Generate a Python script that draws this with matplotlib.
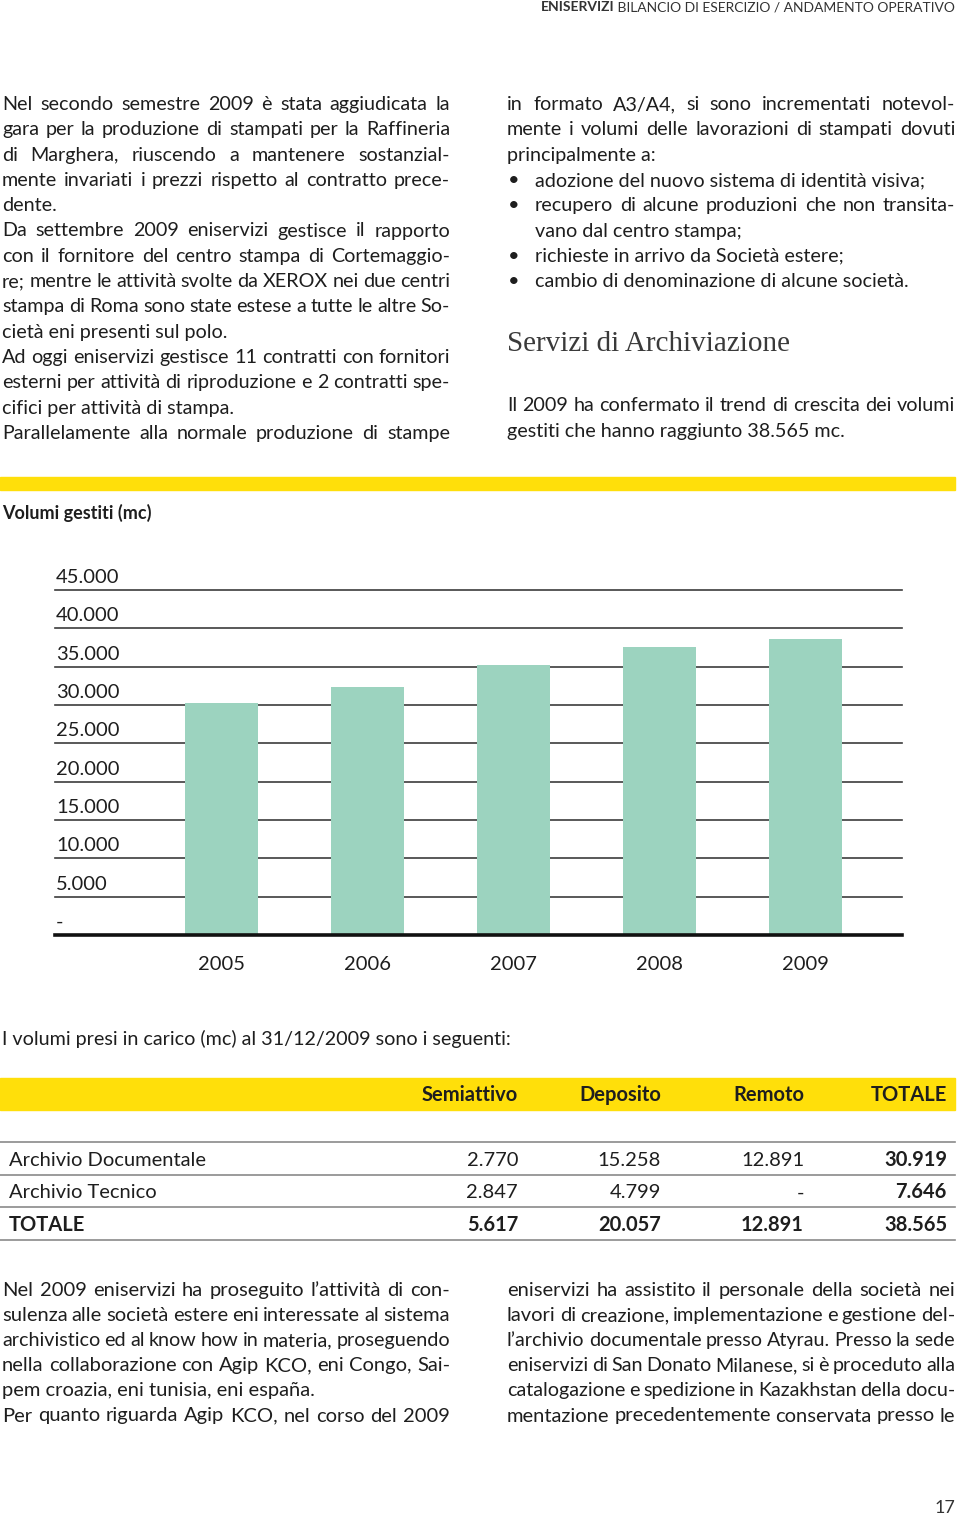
import matplotlib
matplotlib.use('Agg')
import matplotlib.pyplot as plt
from matplotlib.transforms import Affine2D

# chart data
years = ['2005', '2006', '2007', '2008', '2009']
volumes = [30200, 32400, 35200, 37600, 38565]
ytick_values = [0, 5000, 10000, 15000, 20000, 25000, 30000, 35000, 40000, 45000]
ytick_labels = ['-', '5.000', '10.000', '15.000', '20.000', '25.000',
                '30.000', '35.000', '40.000', '45.000']

# table data
table_cols = ['Semiattivo', 'Deposito', 'Remoto', 'TOTALE']
table_rows = ['Archivio Documentale', 'Archivio Tecnico', 'TOTALE']
table_vals = [['2.770', '15.258', '12.891', '30.919'],
              ['2.847', '4.799', '-', '7.646'],
              ['5.617', '20.057', '12.891', '38.565']]

left_col = [
    'Nel secondo semestre 2009 è stata aggiudicata la',
    'gara per la produzione di stampati per la Raffineria',
    'di Marghera, riuscendo a mantenere sostanzial-',
    'mente invariati i prezzi rispetto al contratto prece-',
    'dente.',
    'Da settembre 2009 eniservizi gestisce il rapporto',
    'con il fornitore del centro stampa di Cortemaggio-',
    're; mentre le attività svolte da XEROX nei due centri',
    'stampa di Roma sono state estese a tutte le altre So-',
    'cietà eni presenti sul polo.',
    'Ad oggi eniservizi gestisce 11 contratti con fornitori',
    'esterni per attività di riproduzione e 2 contratti spe-',
    'cifici per attività di stampa.',
    'Parallelamente alla normale produzione di stampe',
]
left_last = {4, 9, 12}

right_top = [
    'in formato A3/A4, si sono incrementati notevol-',
    'mente i volumi delle lavorazioni di stampati dovuti',
    'principalmente a:',
]
bullets = [
    ['adozione del nuovo sistema di identità visiva;'],
    ['recupero di alcune produzioni che non transita-', 'vano dal centro stampa;'],
    ['richieste in arrivo da Società estere;'],
    ['cambio di denominazione di alcune società.'],
]
archive_text = [
    'Il 2009 ha confermato il trend di crescita dei volumi',
    'gestiti che hanno raggiunto 38.565 mc.',
]

bottom_left = [
    'Nel 2009 eniservizi ha proseguito l’attività di con-',
    'sulenza alle società estere eni interessate al sistema',
    'archivistico ed al know how in materia, proseguendo',
    'nella collaborazione con Agip KCO, eni Congo, Sai-',
    'pem croazia, eni tunisia, eni españa.',
    'Per quanto riguarda Agip KCO, nel corso del 2009',
]
bottom_right = [
    'eniservizi ha assistito il personale della società nei',
    'lavori di creazione, implementazione e gestione del-',
    'l’archivio documentale presso Atyrau. Presso la sede',
    'eniservizi di San Donato Milanese, si è proceduto alla',
    'catalogazione e spedizione in Kazakhstan della docu-',
    'mentazione precedentemente conservata presso le',
]

W, H = 960, 1515
BODY = ['Lato', 'DejaVu Sans']
NARROW = ['Lato', 'DejaVu Sans']
YELLOW = '#ffdf0a'
INK = '#1e1e1e'

fig = plt.figure(figsize=(W / 100, H / 100), dpi=100)
renderer = fig.canvas.get_renderer()
px = Affine2D().scale(1, -1).translate(0, H)  # pixel coords, y from top


def text(x, y, s, **kw):
    kw.setdefault('color', INK)
    kw.setdefault('va', 'baseline')
    return fig.text(x, y, s, transform=px, **kw)


def width_of(t):
    return t.get_window_extent(renderer).width


def justified(x, y, s, width, min_gap=3.5, **kw):
    words = s.split(' ')
    items = [text(x, y, w, **kw) for w in words]
    if len(items) < 2:
        return
    size = items[0].get_fontsize()
    while True:
        widths = [width_of(t) for t in items]
        gap = (width - sum(widths)) / (len(items) - 1)
        if gap >= min_gap or size < 8:
            break
        size *= 0.98
        for t in items:
            t.set_fontsize(size)
    pos = x
    for t, w in zip(items, widths):
        t.set_x(pos)
        pos += w + gap


body_kw = dict(family=BODY, fontsize=14.2)

# header
reg = text(955, 11, ' BILANCIO DI ESERCIZIO / ANDAMENTO OPERATIVO', ha='right',
           family=BODY, fontsize=10, color='#333333')
text(955 - width_of(reg), 11, 'ENISERVIZI', ha='right', family=BODY,
     fontsize=10, fontweight='bold', color='#333333')

# left column
for i, s in enumerate(left_col):
    y = 110 + i * 25.3
    if i in left_last:
        text(2, y, s, **body_kw)
    else:
        justified(2, y, s, 448, **body_kw)

# right column
justified(507, 110, right_top[0], 448, **body_kw)
justified(507, 135.3, right_top[1], 448, **body_kw)
text(507, 160.6, right_top[2], **body_kw)
k = 3
for item in bullets:
    text(508, 110 + k * 25.3, '•', **body_kw)
    for j, s in enumerate(item):
        y = 110 + k * 25.3
        if j == 0 and len(item) > 1:
            justified(535, y, s, 420, **body_kw)
        else:
            text(535, y, s, **body_kw)
        k += 1

text(507, 351, 'Servizi di Archiviazione', family=['Liberation Serif', 'DejaVu Serif'],
     fontsize=21, color='#3a3a3a')
justified(507, 411, archive_text[0], 448, **body_kw)
text(507, 436.5, archive_text[1], **body_kw)

# yellow band
fig.patches.append(plt.Rectangle((0, 1 - 490 / H), 955 / W, 13 / H,
                                 transform=fig.transFigure, color=YELLOW, zorder=0))
text(2, 519, 'Volumi gestiti (mc)', family=NARROW, fontsize=13, fontweight='bold')

# bar chart
ax = fig.add_axes([55 / W, 1 - 935 / H, 847 / W, 345 / H])
x = list(range(len(years)))
ax.bar(x, volumes, width=0.5, color='#9cd3bf', zorder=1)
for v, lab in zip(ytick_values, ytick_labels):
    if v == 0:
        ax.axhline(0, color='#111111', lw=2.6, zorder=3, clip_on=False)
    else:
        ax.axhline(v, color='#3c3c3c', lw=1.2, zorder=0, clip_on=False)
    ax.annotate(lab, xy=(0, v), xycoords=('axes fraction', 'data'),
                xytext=(1, 4), textcoords='offset pixels', va='bottom', ha='left',
                family=NARROW, fontsize=14.5, color=INK)
for xi, lab in zip(x, years):
    ax.annotate(lab, xy=(xi, 0), xycoords='data', xytext=(0, -29),
                textcoords='offset pixels', va='center', ha='center',
                family=NARROW, fontsize=14.5, color=INK)
ax.set_xlim(-1.137, 4.664)
ax.set_ylim(0, 45000)
ax.axis('off')

# table
text(2, 1045, 'I volumi presi in carico (mc) al 31/12/2009 sono i seguenti:', **body_kw)
fig.patches.append(plt.Rectangle((0, 1 - 1110 / H), 955 / W, 32 / H,
                                 transform=fig.transFigure, color=YELLOW, zorder=0))
col_right = [518, 661, 804, 947]
for cx, c in zip(col_right, table_cols):
    text(cx, 1101, c, ha='right', family=NARROW, fontsize=14.5, fontweight='bold')
for ly in [1142, 1175, 1207, 1240]:
    fig.add_artist(plt.Line2D([0, 955 / W], [1 - ly / H, 1 - ly / H],
                              transform=fig.transFigure, color='#8a8a8a', lw=1.2))
for r, (name, vals) in enumerate(zip(table_rows, table_vals)):
    y = 1166 + r * 32.3
    last = r == len(table_rows) - 1
    text(9, y, name, family=NARROW, fontsize=14.5,
         fontweight='bold' if last else 'normal')
    for c, (cx, v) in enumerate(zip(col_right, vals)):
        bold = last or c == len(vals) - 1
        text(cx, y, v, ha='right', family=NARROW, fontsize=14.5,
             fontweight='bold' if bold else 'normal')

# bottom paragraphs
narrow_kw = dict(family=NARROW, fontsize=14.5)
for i, s in enumerate(bottom_left):
    y = 1296 + i * 25.1
    if i == 4:
        text(2, y, s, **narrow_kw)
    else:
        justified(2, y, s, 448, **narrow_kw)
for i, s in enumerate(bottom_right):
    justified(507, 1296 + i * 25.1, s, 448, **narrow_kw)

text(955, 1513, '17', ha='right', family=BODY, fontsize=13, color='#333333')

fig.savefig('out.png', dpi=100)
